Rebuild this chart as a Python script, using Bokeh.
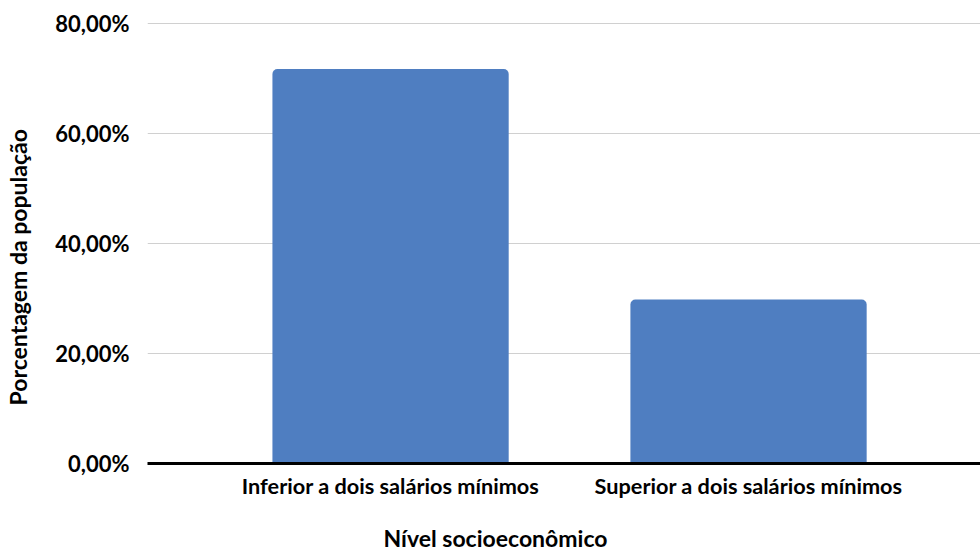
from bokeh.plotting import figure
from bokeh.models import Range1d, FixedTicker, Title
from bokeh.embed import file_html
from bokeh.resources import INLINE

# Share of the population by socioeconomic level (%)
categories = ["Inferior a dois salários mínimos", "Superior a dois salários mínimos"]
values = [71.7, 29.8]
y_ticks = [0, 20, 40, 60, 80]
y_tick_labels = ["0,00%", "20,00%", "40,00%", "60,00%", "80,00%"]
x_title = "Nível socioeconômico"
y_title = "Porcentagem da população"

FONT = "Lato"
BAR_COLOR = "#4f7ec1"

xs = [i + 0.5 for i in range(len(categories))]

p = figure(
    width=980, height=551,
    x_range=Range1d(-0.179, 2.148),
    y_range=Range1d(0, 81.8),
    output_backend="svg", toolbar_location=None,
    min_border_left=147, min_border_right=0,
    min_border_top=13, min_border_bottom=88,
)
p.outline_line_color = None
p.background_fill_color = "white"
p.border_fill_color = "white"

p.vbar(x=xs, top=values, width=0.66, bottom=0,
       fill_color=BAR_COLOR, line_color=None,
       border_radius=(5, 5, 0, 0))

# y axis: tick labels only, gridlines across the frame
p.yaxis.ticker = FixedTicker(ticks=y_ticks)
p.yaxis.major_label_overrides = {t: s for t, s in zip(y_ticks, y_tick_labels)}
p.yaxis.axis_line_color = None
p.yaxis.major_tick_line_color = None
p.yaxis.minor_tick_line_color = None
p.yaxis.major_label_text_font = FONT
p.yaxis.major_label_text_font_style = "bold"
p.yaxis.major_label_text_font_size = "22px"
p.yaxis.major_label_text_color = "black"
p.yaxis.major_label_standoff = 12
# blank spacer label between the tick labels and the title
p.yaxis.axis_label = "\u00a0"
p.yaxis.axis_label_text_font_size = "14px"
p.yaxis.axis_label_standoff = 0

p.ygrid.ticker = FixedTicker(ticks=y_ticks[1:])
p.ygrid.grid_line_color = "#d0d0d0"
p.ygrid.grid_line_width = 1
p.xgrid.grid_line_color = None

# x axis: thick baseline with category labels
p.xaxis.ticker = FixedTicker(ticks=xs)
p.xaxis.major_label_overrides = {x: c for x, c in zip(xs, categories)}
p.xaxis.axis_line_color = "black"
p.xaxis.axis_line_width = 3
p.xaxis.major_tick_line_color = None
p.xaxis.minor_tick_line_color = None
p.xaxis.major_label_text_font = FONT
p.xaxis.major_label_text_font_style = "bold"
p.xaxis.major_label_text_font_size = "21.7px"
p.xaxis.major_label_text_color = "black"
p.xaxis.major_label_standoff = 3
# blank spacer label keeps the title clear of the category labels
p.xaxis.axis_label = "\u00a0"
p.xaxis.axis_label_text_font_size = "16px"
p.xaxis.axis_label_standoff = 0

# axis titles
p.add_layout(Title(text=x_title, align="left", offset=236,
                   vertical_align="bottom",
                   text_font=FONT, text_font_style="bold",
                   text_font_size="23px", text_color="black",
                   standoff=0), "below")
p.add_layout(Title(text=y_title, align="left", offset=58,
                   vertical_align="top",
                   text_font=FONT, text_font_style="bold",
                   text_font_size="23px", text_color="black",
                   standoff=0), "left")

open("out.html", "w").write(file_html(p, INLINE))
